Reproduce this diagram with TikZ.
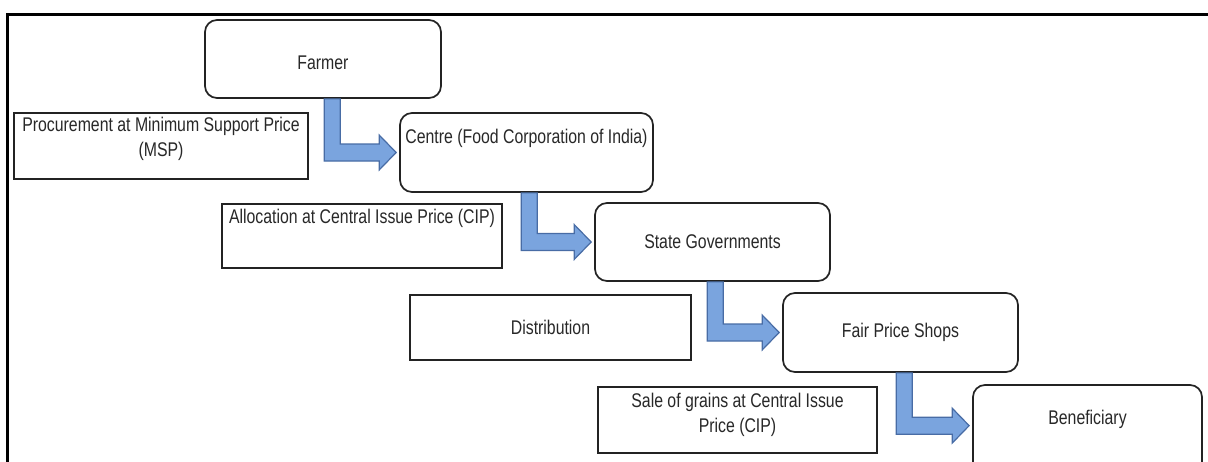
\documentclass[tikz,border=0pt]{standalone}
\usepackage{fontspec}
\setmainfont{Liberation Sans}[FakeStretch=0.8]
\usetikzlibrary{calc}
\definecolor{arrowfill}{RGB}{122,164,222}
\definecolor{arrowline}{RGB}{72,108,165}
\definecolor{boxline}{RGB}{35,35,35}
\definecolor{txt}{RGB}{40,40,40}
\tikzset{
  rbox/.style={draw=boxline, line width=1.7pt, rounded corners=12pt, fill=white, inner sep=0pt, text=txt},
  sbox/.style={draw=boxline, line width=1.9pt, fill=white, inner sep=0pt, text=txt},
  toptext/.style={anchor=north, inner sep=0pt, align=center, text=txt},
  flowarrow/.style={fill=arrowfill, draw=arrowline, line width=1.2pt, line join=miter},
  frameline/.style={line width=3pt, draw=black, line join=miter}
}
% block L-arrow: from node #1 (stem offset #3 from its south west) to tip point #2
\newcommand\blockarrow[3]{%
  \filldraw[flowarrow] let \p1=(#1.south west), \p2=(#2) in
    ({\x1+#3+16pt},\y1) -- ({\x1+#3+16pt},{\y2+8.5pt}) -- ({\x2-20pt},{\y2+8.5pt})
    -- ({\x2-20pt},{\y2+17.5pt}) -- ({\x2-3pt},\y2) -- ({\x2-20pt},{\y2-17.5pt})
    -- ({\x2-20pt},{\y2-8.5pt}) -- ({\x1+#3},{\y2-8.5pt}) -- ({\x1+#3},\y1) -- cycle;}
\begin{document}
\begin{tikzpicture}[x=1pt,y=-1pt,font=\fontsize{19.8}{25}\selectfont]
\fill[white] (0,0) rectangle (1208,461);
\useasboundingbox (0,0) rectangle (1208,461);
\draw[frameline] (7.5,470) -- (7.5,14.5) -- (1215,14.5);

\node[rbox, minimum width=236pt, minimum height=78pt, text depth=0pt, text height=21pt] (farmer) at (323,59) {Farmer};
\node[sbox, minimum width=294pt, minimum height=66pt,
  label={[toptext, name=proctext, yshift=-5pt]north:{Procurement at Minimum Support Price\\(MSP)}}] (proc) at (161,146) {};
\node[rbox, minimum width=253pt, minimum height=79pt,
  label={[toptext, name=centretext, yshift=-17pt]north:{Centre (Food Corporation of India)}}] (centre) at (526.5,152.5) {};
\node[sbox, minimum width=280pt, minimum height=64pt,
  label={[toptext, name=alloctext, yshift=-5.5pt]north:{Allocation at Central Issue Price (CIP)}}] (alloc) at (362,236) {};
\node[rbox, minimum width=235pt, minimum height=78pt] (state) at (712.5,242) {State Governments};
\node[sbox, minimum width=281pt, minimum height=65pt] (dist) at (550.5,327.5) {Distribution};
\node[rbox, minimum width=235pt, minimum height=79pt] (fps) at (900.5,332.5) {Fair Price Shops};
\node[sbox, minimum width=279pt, minimum height=66pt,
  label={[toptext, name=saletext, yshift=-7pt]north:{Sale of grains at Central Issue\\Price (CIP)}}] (sale) at (737.5,420) {};
\node[rbox, minimum width=229pt, minimum height=95pt,
  label={[toptext, name=benetext, yshift=-25.5pt]north:{Beneficiary}}] (bene) at (1087.5,432.5) {};

\blockarrow{farmer}{centre.west}{120pt}
\blockarrow{centre}{state.west}{122pt}
\blockarrow{state}{fps.west}{113pt}
\blockarrow{fps}{$(bene.north west)+(0,41.5)$}{114pt}
\end{tikzpicture}
\end{document}
